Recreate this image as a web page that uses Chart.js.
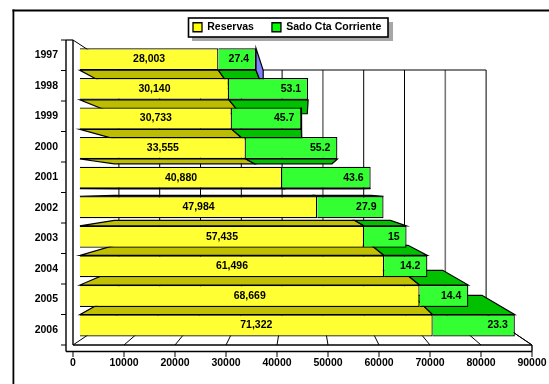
<!DOCTYPE html>
<html><head><meta charset="utf-8">
<style>html,body{margin:0;padding:0;background:#fff}canvas{display:block}</style>
<script src="https://cdn.jsdelivr.net/npm/chart.js@4/dist/chart.umd.min.js"></script>
</head><body><canvas id="c" width="549" height="384"></canvas>
<script>
const categories = ['1997','1998','1999','2000','2001','2002','2003','2004','2005','2006'];
const reservas = [28003,30140,30733,33555,40880,47984,57435,61496,68669,71322];
const saldo = [7600,16000,14050,18500,17900,13400,8600,8750,9850,16600];
const saldoLabels = ['27.4','53.1','45.7','55.2','43.6','27.9','15','14.2','14.4','23.3'];
const reservasLabels = ['28,003','30,140','30,733','33,555','40,880','47,984','57,435','61,496','68,669','71,322'];
const xTicks = [0,10000,20000,30000,40000,50000,60000,70000,80000,90000];

const FAMILY = '"Liberation Sans", Arial, sans-serif';
const FS = 10.5;
const FONT = 'bold '+FS+'px '+FAMILY;
const VP = {x:302.5, y:190};
const S_FRONT = 0.97, S_BACK = 0.82, S_WALL = 0.8;
const P = (x,y,s)=>[VP.x+(x-VP.x)*s, VP.y+(y-VP.y)*s];
function poly(ctx,pts,fill,lw){
  ctx.beginPath(); pts.forEach((p,i)=>i?ctx.lineTo(p[0],p[1]):ctx.moveTo(p[0],p[1])); ctx.closePath();
  if(fill){ctx.fillStyle=fill;ctx.fill();}
  ctx.strokeStyle='#000';ctx.lineWidth=lw||1.2;ctx.stroke();
}
function line(ctx,a,b,c,d,lw,col){ctx.beginPath();ctx.moveTo(a,b);ctx.lineTo(c,d);ctx.strokeStyle=col||'#000';ctx.lineWidth=lw||1;ctx.stroke();}

const scene = {
  id:'scene',
  afterLayout(chart){
    const l = chart.legend; const w = l.width;
    l.left = 175; l.right = 175+w; l.top = 4;
  },
  beforeDraw(chart){
    const ctx=chart.ctx, {left:L,right:R,top:T,bottom:B}=chart.chartArea, x=chart.scales.x;
    ctx.save();
    ctx.fillStyle='#000';ctx.fillRect(12.5,9.5,536.5,2);ctx.fillRect(12.5,9.5,1.8,374.5);
    // legend frame
    ctx.fillStyle='#a6a6a6';ctx.fillRect(192,22,201,19);
    ctx.fillStyle='#fff';ctx.strokeStyle='#000';ctx.lineWidth=1.6;ctx.fillRect(188.5,18,199.5,19);ctx.strokeRect(188.5,18,199.5,19);
    // back wall
    const [bl,bt]=P(L,T,S_WALL),[br,bb]=P(R,B,S_WALL);
    xTicks.forEach((v,i)=>{
      const fx=x.getPixelForValue(v), bx=P(fx,B,S_WALL)[0];
      line(ctx,bx,bt,bx,bb,(i===5||i===8)?1.6:1,(i===5||i===8)?'#777':'#000');
      line(ctx,fx,B,bx,bb,1);
      line(ctx,fx,B+6.5,fx,B+12,1);
    });
    line(ctx,bl,bt,br,bt,1);
    line(ctx,L,T,bl,bt,1); line(ctx,R,B,br,bb,1);
    // side frame
    const W=L-7, F=B+6.5, band=(B-T)/categories.length;
    line(ctx,W,T,W,F,1.4); line(ctx,L,T,L,B,1.4);
    line(ctx,W,F,R,F,1.4); line(ctx,L,B,R,B,1.4); line(ctx,R,B,R,F,1.4);
    for(let i=0;i<=categories.length;i++){const yy=T+i*band; line(ctx,W-5,yy,W,yy,1);}
    line(ctx,W,T,L,T,1.2);
    ctx.restore();
  },
  beforeDatasetsDraw(chart){
    const ctx=chart.ctx;
    const m0=chart.getDatasetMeta(0).data, m1=chart.getDatasetMeta(1).data;
    const S=(x,y)=>P(x,y,S_FRONT), K=(x,y)=>P(x,y,S_BACK);
    ctx.save();
    categories.forEach((c,i)=>{
      const b0=m0[i], b1=m1[i];
      const xa=b0.base, xb=b0.x, xc=b1.x, top=b0.y-b0.height/2, bot=b0.y+b0.height/2;
      const yf=[top,bot].map(v=>S(xa,v)[1]);
      if(yf[0]>VP.y){
        poly(ctx,[S(xa,top),S(xb,top),K(xb,top),K(xa,top)],'#c0c000');
        poly(ctx,[S(xb,top),S(xc,top),K(xc,top),K(xb,top)],'#00c000');
      } else if(yf[1]<VP.y){
        poly(ctx,[S(xa,bot),S(xb,bot),K(xb,bot),K(xa,bot)],'#bcbc00');
        poly(ctx,[S(xb,bot),S(xc,bot),K(xc,bot),K(xb,bot)],'#00c000');
      }
      if(S(xc,top)[0]<VP.x){
        poly(ctx,[S(xc,top),S(xc,bot),K(xc,bot),K(xc,top)],'#8080ff');
      }
    });
    ctx.restore();
    ctx.save();
    ctx.translate(VP.x,VP.y);ctx.scale(S_FRONT,S_FRONT);ctx.translate(-VP.x,-VP.y);
  },
  afterDatasetsDraw(chart){
    const ctx=chart.ctx;
    const m0=chart.getDatasetMeta(0).data, m1=chart.getDatasetMeta(1).data;
    ctx.restore();
    ctx.save();
    ctx.font=FONT;ctx.fillStyle='#000';ctx.textBaseline='middle';
    categories.forEach((c,i)=>{
      const b0=m0[i], b1=m1[i];
      const a=P((b0.base+b0.x)/2,b0.y,S_FRONT), e=P(b1.x,b0.y,S_FRONT);
      ctx.textAlign='center';
      ctx.fillText(reservasLabels[i],a[0],a[1]);
      ctx.textAlign='right';
      ctx.fillText(saldoLabels[i],e[0]-7,e[1]);
    });
    ctx.restore();
  }
};
new Chart(document.getElementById('c'),{
  type:'bar',
  plugins:[scene],
  data:{labels:categories,datasets:[
    {label:'Reservas',data:reservas,backgroundColor:'#ffff33',borderColor:'#000',borderWidth:1.3,stack:'a',categoryPercentage:0.74,barPercentage:1},
    {label:'Sado Cta Corriente',data:saldo,backgroundColor:'#33ff33',borderColor:'#000',borderWidth:1.3,stack:'a',categoryPercentage:0.74,barPercentage:1}
  ]},
  options:{
    indexAxis:'y',responsive:false,animation:false,
    layout:{padding:{top:20,right:17,left:0,bottom:0}},
    plugins:{
      legend:{display:true,position:'top',align:'start',maxHeight:20,
        labels:{font:{size:FS,weight:'bold',family:FAMILY},color:'#000',boxWidth:9,boxHeight:9,padding:18,
          generateLabels(chart){return chart.data.datasets.map((d,i)=>({text:d.label,fillStyle:i?'#00ff00':'#ffff00',strokeStyle:'#000',lineWidth:1.3,datasetIndex:i}));}}},
      tooltip:{enabled:false}
    },
    scales:{
      x:{type:'linear',stacked:true,min:0,max:90000,position:'bottom',
        afterBuildTicks(s){s.ticks=xTicks.map(v=>({value:v}));},
        grid:{display:false,drawTicks:false},border:{display:false},
        ticks:{autoSkip:false,maxRotation:0,padding:12,color:'#000',font:{size:FS,weight:'bold',family:FAMILY},callback:v=>String(v)},
        afterFit(s){s.height=39;s.paddingLeft=0;s.paddingRight=0;}},
      y:{type:'category',stacked:true,position:'left',
        grid:{display:false,drawTicks:false},border:{display:false},
        ticks:{autoSkip:false,padding:15,color:'#000',font:{size:FS,weight:'bold',family:FAMILY}},
        afterFit(s){s.width=73;s.paddingTop=0;s.paddingBottom=0;}}
    }
  }
});
</script></body></html>
